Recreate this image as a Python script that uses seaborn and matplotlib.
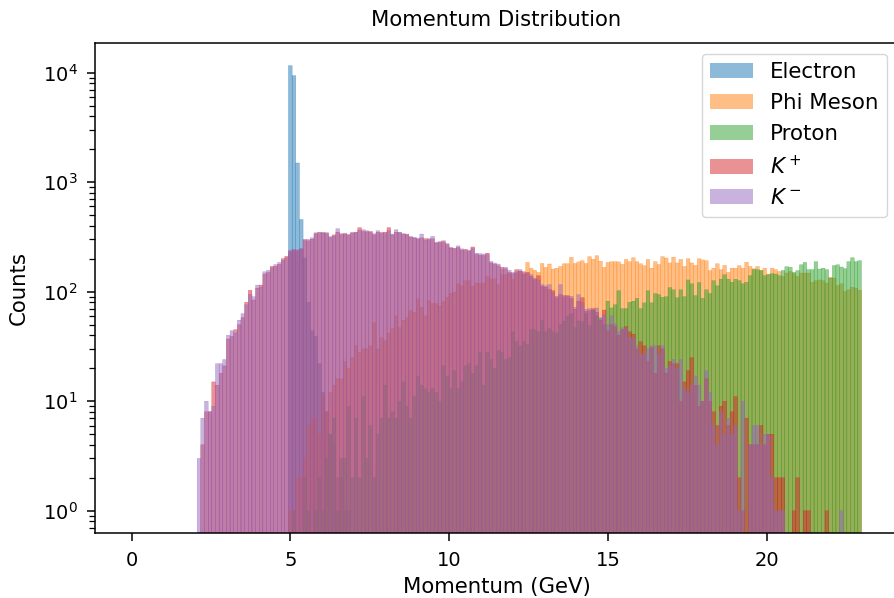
import numpy as np
import pandas as pd
import matplotlib
matplotlib.use("Agg")
import matplotlib.pyplot as plt
import seaborn as sns

# Shared binning for every particle species
n_bins = 200
p_max = 22.98

# Counts per bin; each list starts at the given bin index, all other bins are empty
electron_start = 43
electron_counts = [11590, 9390, 1497, 456, 203, 80, 44, 39, 22, 12, 8, 5, 4, 2, 2, 1, 1]

phi_start = 43
phi_counts = [
    1, 1, 2, 2, 3, 6, 7, 7, 5, 11,
    8, 12, 14, 16, 16, 23, 20, 25, 32, 28,
    30, 30, 32, 52, 30, 38, 36, 42, 46, 60,
    47, 55, 58, 67, 65, 86, 72, 60, 83, 78,
    78, 74, 81, 89, 97, 99, 118, 113, 126, 126,
    112, 120, 120, 120, 138, 131, 131, 116, 143, 143,
    146, 129, 148, 153, 153, 185, 164, 157, 150, 181,
    167, 179, 161, 164, 170, 180, 180, 206, 181, 187,
    192, 181, 209, 198, 213, 190, 167, 185, 188, 188,
    187, 178, 197, 188, 204, 188, 180, 173, 197, 164,
    188, 177, 209, 203, 183, 207, 183, 197, 170, 200,
    183, 174, 200, 195, 192, 156, 164, 180, 159, 174,
    150, 164, 164, 173, 164, 186, 170, 162, 170, 157,
    164, 145, 164, 159, 153, 138, 148, 153, 146, 138,
    148, 148, 148, 122, 126, 128, 126, 120, 136, 133,
    114, 118, 101, 104, 110, 108, 103,
]

proton_start = 44
proton_counts = [
    1, 0, 0, 2, 1, 0, 1, 2, 1, 3,
    5, 7, 1, 3, 3, 9, 2, 7, 2, 11,
    3, 6, 2, 5, 7, 14, 7, 8, 7, 10,
    15, 9, 7, 11, 17, 14, 13, 12, 13, 12,
    10, 21, 17, 13, 19, 13, 15, 21, 22, 18,
    21, 28, 14, 28, 24, 20, 29, 28, 24, 25,
    43, 35, 32, 35, 33, 45, 45, 43, 55, 43,
    46, 43, 42, 50, 54, 60, 63, 47, 54, 53,
    63, 49, 68, 60, 57, 50, 82, 71, 76, 102,
    70, 70, 80, 82, 87, 70, 79, 102, 79, 96,
    94, 89, 90, 109, 104, 88, 104, 90, 128, 118,
    92, 121, 87, 104, 96, 126, 113, 130, 143, 130,
    122, 130, 126, 118, 122, 140, 159, 159, 156, 140,
    143, 146, 145, 140, 156, 169, 167, 150, 156, 176,
    185, 159, 159, 188, 161, 164, 159, 133, 173, 176,
    168, 162, 188, 204, 188, 192,
]

kplus_start = 19
kplus_counts = [
    4, 8, 8, 15, 14, 18, 21, 37, 39, 45,
    50, 58, 80, 103, 84, 108, 115, 145, 150, 170,
    171, 178, 200, 210, 232, 241, 236, 244, 300, 291,
    302, 338, 350, 343, 345, 312, 330, 350, 338, 335,
    333, 342, 350, 384, 355, 352, 355, 330, 349, 347,
    350, 384, 330, 350, 345, 334, 336, 314, 308, 300,
    310, 305, 299, 304, 278, 286, 285, 274, 250, 250,
    254, 240, 244, 234, 256, 219, 215, 214, 225, 183,
    178, 172, 167, 162, 150, 146, 159, 154, 145, 150,
    138, 129, 140, 112, 110, 105, 102, 88, 94, 90,
    92, 87, 69, 82, 88, 66, 67, 70, 65, 55,
    68, 44, 50, 48, 40, 45, 48, 43, 41, 30,
    35, 32, 23, 31, 18, 32, 30, 18, 23, 22,
    22, 10, 15, 19, 25, 14, 9, 10, 16, 10,
    8, 6, 9, 10, 6, 8, 11, 2, 1, 7,
    4, 4, 4, 6, 4, 5, 5, 2, 2, 2,
    0, 0, 1, 2, 0, 1, 1, 0, 0, 0, 0, 1,
]

kminus_start = 18
kminus_counts = [
    3, 7, 10, 8, 9, 22, 22, 24, 40, 44,
    42, 55, 63, 76, 95, 90, 115, 110, 152, 157,
    165, 177, 185, 193, 204, 240, 236, 241, 250, 292,
    300, 310, 345, 340, 350, 338, 320, 322, 376, 330,
    343, 326, 350, 344, 365, 368, 360, 348, 338, 360,
    340, 338, 360, 336, 368, 350, 340, 328, 320, 315,
    309, 336, 296, 305, 320, 284, 279, 292, 268, 255,
    244, 262, 246, 238, 240, 248, 225, 222, 221, 218,
    189, 183, 179, 160, 167, 157, 150, 152, 159, 150,
    146, 143, 133, 128, 116, 113, 116, 98, 91, 116,
    93, 90, 91, 72, 94, 80, 69, 70, 68, 71,
    58, 62, 50, 60, 51, 43, 47, 46, 38, 38,
    32, 27, 27, 30, 32, 32, 27, 32, 20, 21,
    24, 20, 24, 13, 12, 14, 17, 14, 10, 19,
    12, 6, 4, 8, 5, 7, 5, 6, 1, 10,
    0, 4, 6, 6, 4, 5, 5, 2, 1, 1,
    1, 0, 0, 0, 0, 0, 0, 0, 0, 0,
    0, 0, 0, 0, 0, 0, 1,
]

labels = ["Electron", "Phi Meson", "Proton", "$K^+$", "$K^-$"]
colors = ["C0", "C1", "C2", "C3", "C4"]

edges = np.linspace(0, p_max, n_bins + 1)
centers = (edges[:-1] + edges[1:]) / 2


def full_counts(start, values):
    counts = np.zeros(n_bins)
    counts[start:start + len(values)] = values
    return counts


series = [
    full_counts(electron_start, electron_counts),
    full_counts(phi_start, phi_counts),
    full_counts(proton_start, proton_counts),
    full_counts(kplus_start, kplus_counts),
    full_counts(kminus_start, kminus_counts),
]

fig = plt.figure(figsize=(8.94, 5.98), dpi=100)
ax = fig.add_axes([95 / 894, 1 - 533.3 / 598, (898 - 95) / 894, (533.3 - 43) / 598])

for label, color, counts in zip(labels, colors, series):
    df = pd.DataFrame({"momentum": centers, "count": counts})
    sns.histplot(data=df, x="momentum", weights="count", bins=list(edges),
                 color=color, edgecolor=color, linewidth=0.18,
                 alpha=0.5, label=label, ax=ax)

# Thin bar outlines drawn at their true sub-pixel positions
for bar in ax.patches:
    bar.set_snap(False)

ax.set_yscale("log")
ax.set_ylim(0.622, 18660)
ax.set_xlim(-0.05 * p_max, 1.05 * p_max)

ax.set_title("Momentum Distribution", fontsize=15.2, pad=12.5)
ax.set_xlabel("Momentum (GeV)", fontsize=15.3, labelpad=5.5)
ax.set_ylabel("Counts", fontsize=15.3, labelpad=10)
ax.tick_params(axis="both", which="major", labelsize=14, length=5.5, width=1.1, pad=7)
ax.tick_params(axis="y", which="minor", length=4, width=0.9)
for spine in ax.spines.values():
    spine.set_linewidth(1.1)

leg = ax.legend(loc="upper right", fontsize=15.4)
for handle in leg.legend_handles:
    handle.set_linewidth(0)

fig.savefig("out.png", dpi=100)
